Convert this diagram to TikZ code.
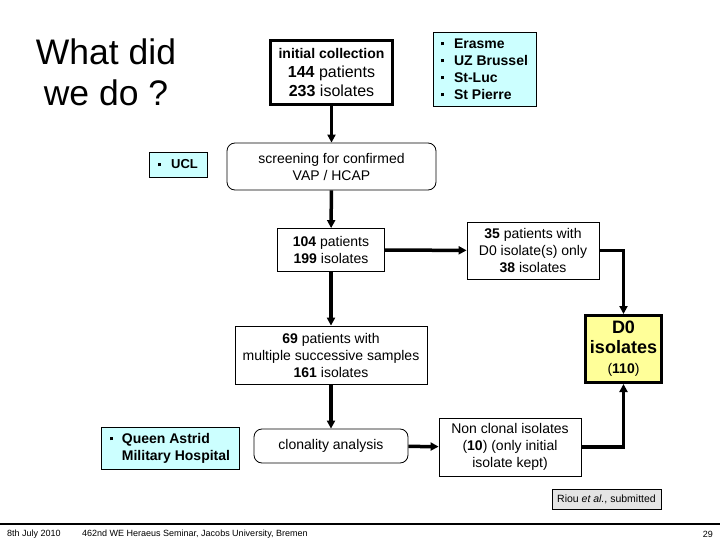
\documentclass[tikz,border=0pt]{standalone}
\usepackage{fontspec}
\setmainfont{Liberation Sans}
\usetikzlibrary{arrows.meta}
\definecolor{cyanfill}{RGB}{204,255,255}
\definecolor{yellowfill}{RGB}{255,255,153}
\definecolor{grayfill}{RGB}{228,228,228}
\newcommand{\bul}{\raisebox{0.2em}{\rule{3pt}{3pt}}}
\begin{document}
\begin{tikzpicture}[x=1pt,y=-1pt,
  box/.style={draw=black,line width=0.8pt,inner sep=0pt,align=center,font=\fontsize{14}{17}\selectfont},
  thickbox/.style={box,line width=3pt},
  roundbox/.style={box,rounded corners=8pt},
  site/.style={box,fill=cyanfill,align=left,font=\fontsize{14}{17}\selectfont\bfseries},
  flow/.style={line width=3.5pt,-{Triangle[length=8pt,width=8pt]}},
  foot/.style={font=\fontsize{9}{11}\selectfont,inner sep=0pt},
  title/.style={font=\fontsize{35.5}{41}\selectfont,align=center,inner sep=0pt}
]
\useasboundingbox (0,0) rectangle (720,540);
\fill[white] (0,0) rectangle (720,540);

% title
\node[title] (ttl) at (106,72) {What did\\we do ?};

% boxes
\node[thickbox,minimum width=122pt,minimum height=64pt,font=\fontsize{16}{19}\selectfont] (init) at (331.5,72.5)
  {{\fontsize{14}{17}\selectfont\textbf{initial collection}}\\\textbf{144} patients\\\textbf{233} isolates};
\node[site,minimum width=103pt,minimum height=74pt] (eras) at (484.5,69)
  {\bul\hspace{10pt}Erasme\\\bul\hspace{10pt}UZ Brussel\\\bul\hspace{10pt}St-Luc\\\bul\hspace{10pt}St Pierre};
\node[site,minimum width=58pt,minimum height=25pt,font=\fontsize{13}{16}\selectfont\bfseries] (ucl) at (178,164.5)
  {\bul\hspace{10pt}UCL};
\node[roundbox,minimum width=209pt,minimum height=47pt] (scr) at (331.5,166.5)
  {screening for confirmed\\VAP / HCAP};
\node[box,minimum width=107pt,minimum height=43pt] (p104) at (331,250)
  {\textbf{104} patients\\\textbf{199} isolates};
\node[box,minimum width=132pt,minimum height=57pt] (p35) at (533,250.5)
  {\textbf{35} patients with\\D0 isolate(s) only\\\textbf{38} isolates};
\node[box,minimum width=192pt,minimum height=58pt] (p69) at (331,355)
  {\textbf{69} patients with\\multiple successive samples\\\textbf{161} isolates};
\node[thickbox,fill=yellowfill,minimum width=76pt,minimum height=67pt,font=\fontsize{18}{20}\selectfont\bfseries] (d0) at (623.5,349)
  {D0\\isolates\\{\fontsize{14}{17}\selectfont\mdseries(\textbf{110})}};
\node[site,minimum width=138pt,minimum height=42pt] (qa) at (170,448)
  {\bul\hspace{9pt}Queen Astrid\\\hspace*{12pt}Military Hospital};
\node[roundbox,minimum width=154pt,minimum height=34pt] (clon) at (331,446)
  {clonality analysis};
\node[box,minimum width=142pt,minimum height=58pt] (nc) at (510,447)
  {Non clonal isolates\\(\textbf{10}) (only initial\\isolate kept)};
\node[box,fill=grayfill,minimum width=109pt,minimum height=20pt,font=\fontsize{10.5}{12}\selectfont] (riou) at (606.5,499)
  {Riou \textit{et al.}, submitted};

% connectors
\draw[flow] (init) -- (scr);
\draw[flow] (scr) -- (p104);
\draw[flow] (p104) -- (p35);
\draw[flow] (p35.east) -| (d0.north);
\draw[flow] (p104) -- (p69);
\draw[flow] (p69) -- (clon);
\draw[flow] (clon) -- (nc);
\draw[flow] (nc.east) -| (d0.south);

% footer
\coordinate (fl) at (0,524);
\coordinate (fr) at (720,524);
\draw[line width=1.3pt] (fl) -- (fr);
\node[foot,anchor=west] (date) at (7,534) {8th July 2010};
\node[foot,anchor=west] (sem) at (82,534) {462nd WE Heraeus Seminar, Jacobs University, Bremen};
\node[foot,anchor=east] (pg) at (713,534) {29};
\end{tikzpicture}
\end{document}
